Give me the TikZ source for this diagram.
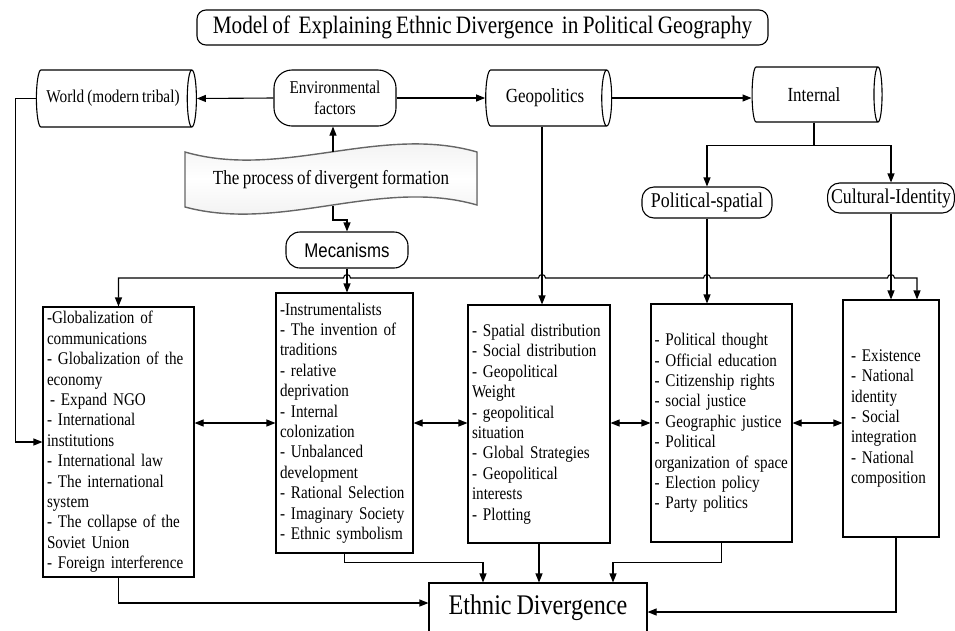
\documentclass[tikz,border=0pt]{standalone}
\usepackage{fontspec}
\setmainfont{Liberation Serif}[FakeStretch=0.85,WordSpace=0.8]
\newfontfamily\mecfont{Liberation Sans}[FakeStretch=0.85]
\usetikzlibrary{arrows.meta,shapes.geometric}

\newcommand\ttlfont{\fontsize{25}{28}\selectfont}
\newcommand\topfont{\fontsize{20}{22}\selectfont}
\newcommand\envfont{\fontsize{18}{21}\selectfont}
\newcommand\bxfont{\fontsize{17.8}{20.4}\selectfont}
\newcommand\edfont{\fontsize{28.4}{30}\selectfont}

\def\bannerpath{(185,152) .. controls (282,180) and (380,124) .. (477,152) -- (477,205)
    .. controls (380,177) and (282,233) .. (185,207) -- cycle}
\def\hop#1{-- (#1-3.5,278) arc[start angle=180,end angle=360,radius=3.5]}

\begin{document}
\begin{tikzpicture}[x=1pt,y=-1pt,line width=1.1pt,
    arr/.style={-{Triangle[length=9pt,width=7pt]}},
    darr/.style={{Triangle[length=9pt,width=7pt]}-{Triangle[length=9pt,width=7pt]}},
    can/.style={draw,cylinder,aspect=0.45,inner sep=2pt,font=\topfont},
    pill/.style={draw,rectangle,rounded corners=#1},
    pill/.default=12pt,
    itembox/.style={draw,align=left,inner xsep=4pt,inner ysep=0pt,font=\bxfont}]
    \useasboundingbox (0,0) rectangle (955,630);

    %% Title
    \node[pill=9pt,minimum width=571pt,minimum height=35pt,font=\ttlfont] (title) at (482.5,27.5)
        {Model of~ Explaining Ethnic Divergence~ in Political Geography};

    %% Top row (for a cylinder, width is across and height is along the axis)
    \node[can,minimum height=160pt,minimum width=57pt,font=\envfont] (world) at (113,98.5) {World (modern tribal)};
    \node[pill=18pt,minimum width=122pt,minimum height=56pt,align=center,font=\envfont] (env) at (335,98)
        {Environmental\\factors};
    \node[can,minimum height=126pt,minimum width=56pt] (geo) at (545,98) {Geopolitics};
    \node[can,minimum height=130pt,minimum width=55pt] (internal) at (814,94.5) {Internal};

    %% The banner
    \fill[top color=gray!15,bottom color=gray!15,middle color=white] \bannerpath;
    \draw[gray!80!black,line width=1.4pt] \bannerpath;
    \node[font=\topfont] (banner) at (331,180) {The process of divergent formation};
    \coordinate (bantop) at (333,152);
    \coordinate (banbot) at (333,206);

    \node[pill=14pt,minimum width=122pt,minimum height=36pt,font=\mecfont\fontsize{19.8}{22}\selectfont] (mec) at (347,250) {Mecanisms};
    \node[pill,minimum width=130pt,minimum height=31pt,font=\fontsize{21}{23}\selectfont] (polsp) at (707,202.5) {Political-spatial};
    \node[pill,minimum width=124pt,minimum height=30pt,font=\fontsize{21}{23}\selectfont] (cultid) at (891,198) {Cultural-Identity};

    %% The five boxes
    \node[itembox,text width=143pt,minimum height=270pt] (box1) at (118.5,442) {%
        -Globalization of\\ communications\\ - Globalization of the\\ economy\\ \hspace*{3pt}- Expand NGO\\
        - International\\ institutions\\ - International law\\ - The international\\ system\\
        - The collapse of the\\ Soviet Union\\ - Foreign interference};
    \node[itembox,text width=129pt,minimum height=260pt] (box2) at (344.5,423) {%
        -Instrumentalists\\ - The invention of\\ traditions\\ - relative\\ deprivation\\ - Internal\\
        colonization\\ - Unbalanced\\ development\\ - Rational Selection\\ - Imaginary Society\\
        - Ethnic symbolism};
    \node[itembox,text width=134pt,minimum height=238pt] (box3) at (539,424) {%
        - Spatial distribution\\ - Social distribution\\ - Geopolitical\\ Weight\\ - geopolitical\\
        situation\\ - Global Strategies\\ - Geopolitical\\ interests\\ - Plotting};
    \node[itembox,text width=134pt,inner xsep=3.5pt,minimum height=238pt] (box4) at (721.5,423) {%
        - Political thought\\ - Official education\\ - Citizenship rights\\ - social justice\\
        - Geographic justice\\ - Political\\ organization of space\\ - Election policy\\ - Party politics};
    \node[itembox,inner xsep=8pt,text width=80pt,minimum height=237pt] (box5) at (891,418.5) {%
        - Existence\\ - National\\ identity\\ - Social\\ integration\\ - National\\ composition};

    \node[draw,minimum width=218pt,minimum height=50pt,font=\edfont] (ethnic) at (538,608) {Ethnic Divergence};

    %% Arrows at the top
    \draw[arr] (env.west) -- (world.east);
    \draw[arr] (env.east) -- (geo.west);
    \draw[arr] (geo.east) -- (internal.west |- geo.east);
    \draw[arr] (bantop) -- (bantop |- env.south);
    \draw[arr] (banbot) -- ++(0,14) -| (mec.north);
    \draw[arr] (internal.south) -- ++(0,23) -| (polsp.north);
    \draw[arr] (internal.south) -- ++(0,23) -| (cultid.north);
    \draw[arr] (world.west) -- ++(-20,0) |- (box1.west);

    %% The line across, with hops
    \coordinate (busL) at (118.5,278);
    \coordinate (busR) at (917,278);
    \draw[darr] (box1.north) -- (busL) \hop{347} \hop{542} \hop{707} \hop{891} -- (busR) -- (busR |- box5.north);
    \draw[arr] (mec.south) -- (mec.south |- box2.north);
    \draw[arr] ([xshift=-3pt]geo.south) -- ([xshift=-3pt]geo.south |- box3.north);
    \draw[arr] (polsp.south) -- (polsp.south |- box4.north);
    \draw[arr] (cultid.south) -- (cultid.south |- box5.north);

    %% Between the boxes
    \draw[darr] (box1.east |- box2.west) -- (box2.west);
    \draw[darr] (box2.east) -- (box3.west |- box2.east);
    \draw[darr] (box3.east |- box4.west) -- (box4.west);
    \draw[darr] (box4.east) -- (box5.west |- box4.east);

    %% Down to Ethnic Divergence
    \draw[arr] (box1.south) |- ([yshift=5pt]ethnic.west);
    \draw[arr] (box2.south) -- ++(0,9) -| ([xshift=-55pt]ethnic.north);
    \draw[arr] (box3.south) -- (box3.south |- ethnic.north);
    \draw[arr] (box4.south) -- ++(0,20) -| ([xshift=75pt]ethnic.north);
    \draw[arr] ([xshift=5pt]box5.south) |- ([yshift=-4pt]ethnic.east);
\end{tikzpicture}
\end{document}
